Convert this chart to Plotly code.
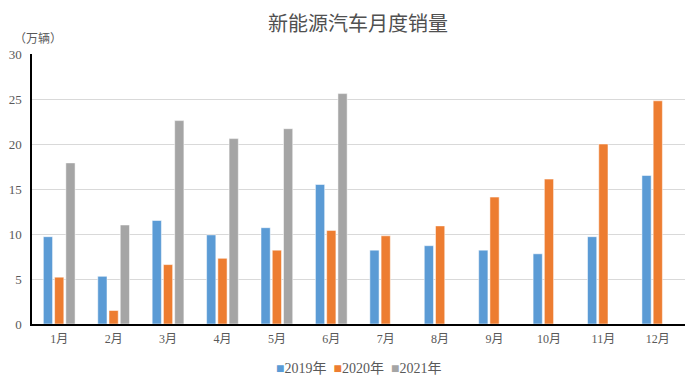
import plotly.graph_objects as go

months = ["1月", "2月", "3月", "4月", "5月", "6月", "7月", "8月", "9月", "10月", "11月", "12月"]
s2019 = [9.7, 5.3, 11.5, 9.9, 10.7, 15.5, 8.2, 8.7, 8.2, 7.8, 9.7, 16.5]
s2020 = [5.2, 1.5, 6.6, 7.3, 8.2, 10.4, 9.8, 10.9, 14.1, 16.1, 20.0, 24.8]
s2021 = [17.9, 11.0, 22.6, 20.6, 21.7, 25.6, None, None, None, None, None, None]
names = ["2019年", "2020年", "2021年"]
colors = ["#5B9BD5", "#ED7D31", "#A5A5A5"]

font_family = "Liberation Serif, Noto Sans CJK SC, serif"

fig = go.Figure()
for name, vals, c in zip(names, [s2019, s2020, s2021], colors):
    fig.add_trace(go.Bar(x=months, y=vals, name=name,
                         marker=dict(color=c, line=dict(color="rgba(255,255,255,0.5)", width=1))))

fig.update_layout(
    width=700, height=387,
    margin=dict(l=24, r=23, t=46, b=71),
    paper_bgcolor="white", plot_bgcolor="white",
    barmode="group", bargap=0.38, bargroupgap=0.18,
    font=dict(family=font_family, size=12, color="#595959"),
    title=dict(text="新能源汽车月度销量", x=0.5, xanchor="center", y=0.958, yanchor="middle",
               font=dict(family="Noto Sans CJK SC", size=20, color="#505050")),
    showlegend=False,
    xaxis=dict(showline=True, linecolor="black", linewidth=1.5, ticks="", showgrid=False,
               automargin=False, ticklabelstandoff=3,
               tickfont=dict(size=12, color="#595959")),
    yaxis=dict(range=[0, 30], dtick=5, showline=True, linecolor="black", linewidth=1.5,
               showgrid=True, gridcolor="#D9D9D9", gridwidth=1, ticks="", zeroline=False,
               automargin=False, ticklabelstandoff=6,
               tickfont=dict(size=13, color="#595959")),
)
fig.add_annotation(text="（万辆）", xref="paper", yref="paper", x=-0.03, y=1.06, xanchor="left", yanchor="middle",
                   showarrow=False, font=dict(family="Noto Sans CJK SC", size=12, color="#595959"))

legend_text = "&nbsp;&nbsp;".join(f"<span style='color:{c}'>■</span>{n}" for n, c in zip(names, colors))
fig.add_annotation(text=legend_text, xref="paper", yref="paper", x=0.5, y=-0.163, xanchor="center",
                   yanchor="middle", showarrow=False, font=dict(size=14, color="#595959"))

fig.write_html("out.html")
